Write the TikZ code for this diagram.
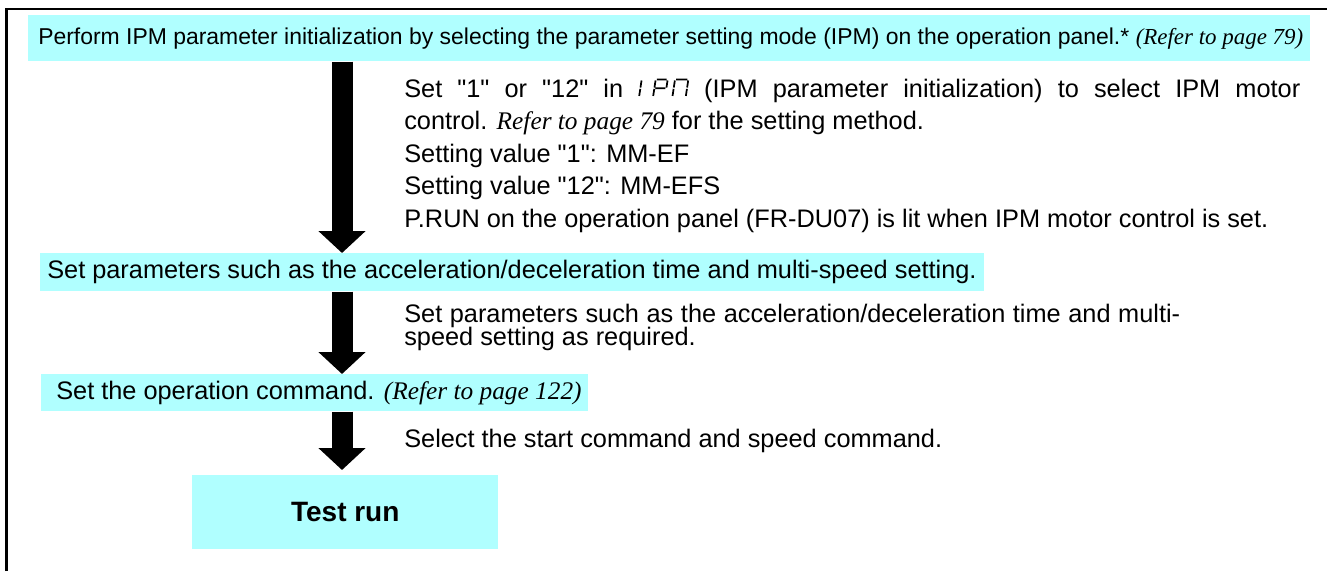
\documentclass[tikz,border=0pt]{standalone}
\usepackage{fontspec}
\setmainfont{Liberation Sans}[Ligatures=TeXOff]
\newfontfamily\timesfam{Liberation Serif}[Ligatures=TeXOff]
\usetikzlibrary{arrows.meta}
\definecolor{boxcyan}{RGB}{176,255,255}
\newcommand{\refit}[1]{{\timesfam\itshape #1}}
\newcommand{\sevseg}{\tikz[baseline=0pt,x=1pt,y=1pt,line width=1.3pt,xslant=0.15]{%
 \draw (2,0.8)--(2,6.1) (2,7.1)--(2,12.4);
 \draw (13.3,13.2)--(20.7,13.2) (12.5,12.4)--(12.5,7.1) (21.5,12.4)--(21.5,7.1) (13.3,6.6)--(20.7,6.6) (12.5,6.1)--(12.5,0.8);
 \draw (27.8,13.2)--(36.2,13.2) (27,12.4)--(27,7.1) (37,12.4)--(37,7.1) (27,6.1)--(27,0.8) (37,6.1)--(37,0.8);
}}
\begin{document}
\begin{tikzpicture}[x=0.75pt,y=-0.75pt,
  every node/.style={font=\fontsize{19pt}{22pt}\selectfont},
  cbox/.style={fill=boxcyan, inner sep=0pt, anchor=north west},
  desc/.style={anchor=base west, inner sep=0pt},
  bigarrow/.style={line width=15.75pt, -{Triangle[width=34.5pt,length=16.5pt]}}]
\useasboundingbox (0,0) rectangle (1327,571);
\draw[line width=1.7pt] (6.5,571) -- (6.5,9) -- (1327,9);
% boxes
\node[cbox, minimum height=34.5pt, font=\fontsize{17.2pt}{20pt}\selectfont] (b1) at (28,15)
  {\makebox[961.5pt][l]{\hspace{7.5pt}Perform IPM parameter initialization by selecting the parameter setting mode (IPM) on the operation panel.* \refit{(Refer to page 79)}}};
\node[cbox, minimum height=28.5pt] (b2) at (40,253)
  {\makebox[708pt][l]{\hspace{5.25pt}Set parameters such as the acceleration/deceleration time and multi-speed setting.}};
\node[cbox, minimum height=27.75pt] (b3) at (41,374)
  {\makebox[410.25pt][l]{\hspace{11.25pt}Set the operation command. \refit{(Refer to page 122)}}};
\node[cbox, minimum width=229.5pt, minimum height=55.5pt, font=\fontsize{21pt}{24pt}\selectfont\bfseries] (tr) at (192,475) {Test run};
% descriptions
\node[desc] (d1a) at (404,97) {\makebox[672pt][s]{Set "1" or "12" in \sevseg\ (IPM parameter initialization) to select IPM motor}};
\node[desc] (d1b) at (404,129.5) {control. \refit{Refer to page 79} for the setting method.};
\node[desc] (d1c) at (404,162) {Setting value "1": MM-EF};
\node[desc] (d1d) at (404,194.5) {Setting value "12": MM-EFS};
\node[desc] (d1e) at (404,227) {P.RUN on the operation panel (FR-DU07) is lit when IPM motor control is set.};
\node[desc] (d2a) at (404,322) {\makebox[582pt][s]{Set parameters such as the acceleration/deceleration time and multi-}};
\node[desc] (d2b) at (404,345) {speed setting as required.};
\node[desc] (d3) at (404,447) {Select the start command and speed command.};
% arrows
\coordinate (ax) at (342,0);
\coordinate (tip3) at ([yshift=3.75pt]tr.north);
\draw[bigarrow] (ax |- b1.south) -- (ax |- b2.north);
\draw[bigarrow] (ax |- b2.south) -- (ax |- b3.north);
\draw[bigarrow] (ax |- b3.south) -- (ax |- tip3);
\end{tikzpicture}
\end{document}
